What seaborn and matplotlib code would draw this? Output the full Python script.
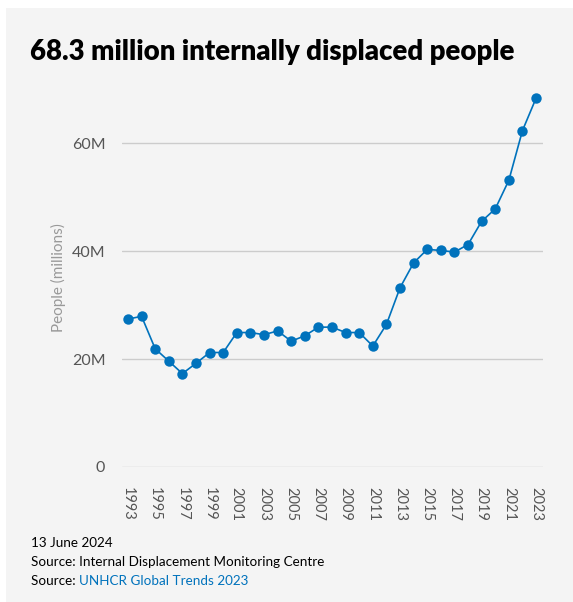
import matplotlib.pyplot as plt
import seaborn as sns
import pandas as pd
from matplotlib.patches import Rectangle

# Data (millions of internally displaced people)
years = list(range(1993, 2024))
idps = [27.4, 27.9, 21.9, 19.6, 17.3, 19.2, 21.2, 21.2, 24.9, 24.9,
        24.5, 25.2, 23.3, 24.3, 25.9, 25.9, 24.9, 24.9, 22.4, 26.4,
        33.2, 37.8, 40.3, 40.1, 39.8, 41.2, 45.5, 47.8, 53.1, 62.3, 68.3]
y_ticks = [0, 20, 40, 60]
y_labels = ["0", "20M", "40M", "60M"]

df = pd.DataFrame({"year": years, "idps": idps})

sns.set_theme(style="white")
plt.rcParams["font.family"] = ["Lato", "DejaVu Sans"]

bg = "#f4f4f4"
blue = "#0072bc"

fig = plt.figure(figsize=(5.73, 6.02), dpi=100)
fig.patch.set_facecolor("white")
# grey card behind everything
card = Rectangle((6 / 573, 0), 1, 1 - 8 / 602, transform=fig.transFigure,
                 facecolor=bg, edgecolor="none", zorder=-10)
fig.add_artist(card)

ax = fig.add_axes([122 / 573, 1 - 467 / 602, 421 / 573, 378 / 602])
ax.set_facecolor(bg)

sns.lineplot(data=df, x="year", y="idps", ax=ax, color=blue, linewidth=1.2,
             marker="o", markersize=7.5, markeredgewidth=0, zorder=3)

ax.set_xlim(1992.56, 2023.51)
ax.set_ylim(0, 70)
ax.set_yticks(y_ticks)
ax.set_yticklabels(y_labels)
ax.set_xticks(years[::2])
ax.set_xticklabels([str(y) for y in years[::2]], rotation=-90)
ax.tick_params(axis="y", length=0, pad=12, labelsize=11.5, labelcolor="#555555")
ax.tick_params(axis="x", length=0, pad=14.5, labelsize=10.5, labelcolor="#555555")
ax.grid(axis="y", color="#cccccc", linewidth=1)
ax.set_axisbelow(True)
for s in ax.spines.values():
    s.set_visible(False)
ax.set_xlabel("")
ax.set_ylabel("")

fig.text(58 / 573, 1 - 278 / 602, "People (millions)", rotation=90, ha="center",
         va="center", fontsize=11, color="#999999")

fig.text(30 / 573, 1 - 52 / 602, "68.3 million internally displaced people",
         fontsize=19.8, fontweight="heavy", color="black", ha="left", va="center")

fig.text(31 / 573, 1 - 543 / 602, "13 June 2024", fontsize=9.7, color="black",
         ha="left", va="center")
fig.text(31 / 573, 1 - 562 / 602, "Source: Internal Displacement Monitoring Centre",
         fontsize=9.7, color="black", ha="left", va="center")
t = fig.text(31 / 573, 1 - 581 / 602, "Source: ", fontsize=9.7, color="black",
             ha="left", va="center")
fig.canvas.draw()
bb = t.get_window_extent()
fig.text(bb.x1 / fig.bbox.width, 1 - 581 / 602, "UNHCR Global Trends 2023",
         fontsize=9.7, color=blue, ha="left", va="center")

fig.savefig("out.png", dpi=100, facecolor=fig.get_facecolor())
